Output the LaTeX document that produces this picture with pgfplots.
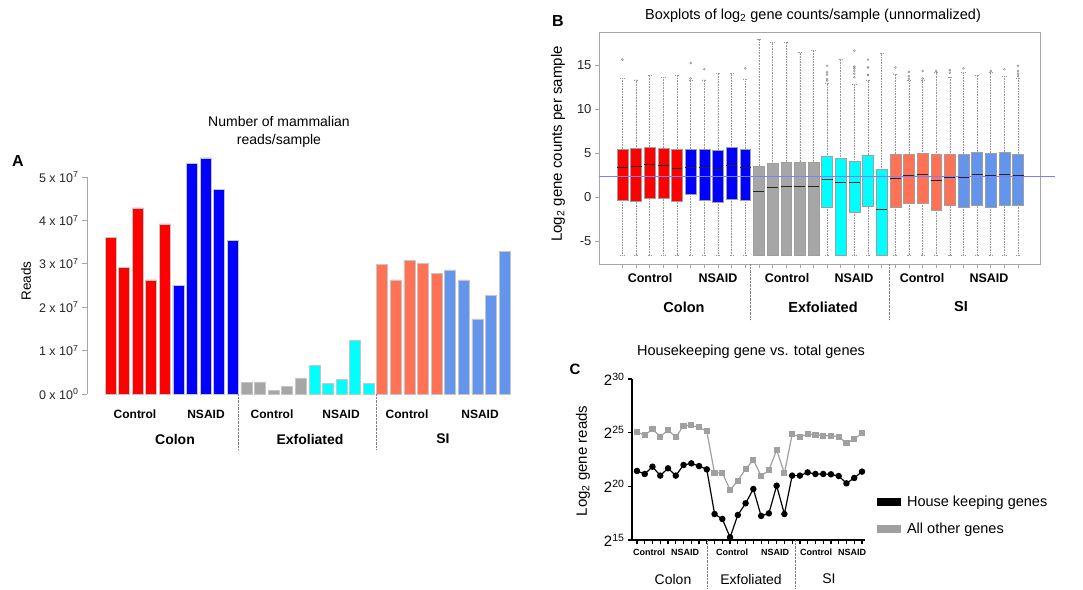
\documentclass[border=0pt]{standalone}
\usepackage{fontspec}
\setmainfont{Liberation Sans}
\usepackage{pgfplots}
\pgfplotsset{compat=1.18}
\usepgfplotslibrary{statistics}

\definecolor{cred}{RGB}{255,0,0}
\definecolor{cblue}{RGB}{0,0,255}
\definecolor{cgray}{RGB}{166,166,166}
\definecolor{ccyan}{RGB}{0,255,255}
\definecolor{ccoral}{RGB}{255,114,86}
\definecolor{ccorn}{RGB}{100,149,237}
\definecolor{refline}{RGB}{125,125,255}
\definecolor{lgray}{RGB}{160,160,160}

\newcommand{\fs}[1]{\fontsize{#1}{#1}\selectfont}

\pgfplotsset{
  bp/.style={draw=gray!75, fill=#1, mark=o, mark size=1pt,
    mark options={draw=gray, fill=none, solid, line width=0.4pt},
    boxplot/every whisker/.style={densely dotted, gray!80, line width=0.6pt},
    boxplot/every median/.style={black!85, line width=1pt}},
  abar/.style={ybar, bar width=11pt, fill=#1, draw=gray!45, line width=0.6pt},
}

\begin{document}
\begin{tikzpicture}[x=1pt,y=1pt]
\useasboundingbox (0,0) rectangle (1083,589);

% ---------------- panel A ----------------
\node[font=\bfseries\fs{16}] at (18,428) {A};
\node[align=center, font=\fontsize{14}{18.5}\selectfont] at (279,457) {Number of mammalian\\reads/sample};
\node[rotate=90, font=\fs{13.5}] at (26,308) {Reads};

\begin{axis}[
    at={(87pt,195pt)}, anchor=south west,
    scale only axis, width=423pt, height=217pt,
    xmin=-0.73, xmax=30.4, ymin=0, ymax=5,
    clip=false,
    axis x line=none, axis y line=left,
    y axis line style={-, gray!70, line width=0.8pt},
    xtick=\empty,
    ytick={0,1,2,3,4,5},
    yticklabels={0 x 10\textsuperscript{0},1 x 10\textsuperscript{7},2 x 10\textsuperscript{7},3 x 10\textsuperscript{7},4 x 10\textsuperscript{7},5 x 10\textsuperscript{7}},
    ytick style={gray!70, line width=0.8pt},
    tick align=outside, major tick length=5pt,
    yticklabel style={font=\fs{12.5}, text=black!85},
]
\addplot[abar=cred] coordinates {(1,3.60) (2,2.91) (3,4.29) (4,2.63) (5,3.92)};
\addplot[abar=cblue] coordinates {(6,2.51) (7,5.31) (8,5.44) (9,4.71) (10,3.54)};
\addplot[abar=cgray] coordinates {(11,0.26) (12,0.28) (13,0.09) (14,0.18) (15,0.37)};
\addplot[abar=ccyan] coordinates {(16,0.65) (17,0.24) (18,0.33) (19,1.23) (20,0.25)};
\addplot[abar=ccoral] coordinates {(21,2.98) (22,2.63) (23,3.08) (24,3.01) (25,2.77)};
\addplot[abar=ccorn] coordinates {(26,2.86) (27,2.63) (28,1.73) (29,2.28) (30,3.28)};
\end{axis}

\draw[densely dotted, gray] (238,195) -- (238,139);
\draw[densely dotted, gray] (376,195) -- (376,139);
\begin{scope}[every node/.style={font=\bfseries\fs{12}}]
\node at (135,175) {Control}; \node at (206,175) {NSAID};
\node at (272,175) {Control}; \node at (341,175) {NSAID};
\node at (407,175) {Control}; \node at (480,175) {NSAID};
\end{scope}
\begin{scope}[every node/.style={font=\bfseries\fs{14}}]
\node at (175,150) {Colon}; \node at (310,150) {Exfoliated}; \node at (443,150) {SI};
\end{scope}

% ---------------- panel B ----------------
\node[font=\bfseries\fs{16}] at (558,568) {B};
\node[font=\fs{14.5}] at (813,573) {Boxplots of log\textsubscript{2} gene counts/sample (unnormalized)};
\node[rotate=90, font=\fs{15}] at (558,445) {Log\textsubscript{2} gene counts per sample};

\begin{axis}[
    at={(599pt,325pt)}, anchor=south west,
    scale only axis, width=441pt, height=232pt,
    xmin=-0.72, xmax=31.61, ymin=-7.55, ymax=18.72,
    clip=false,
    axis line style={gray!70, line width=0.8pt},
    xtick={1,...,30}, xticklabels={},
    ytick={-5,0,5,10,15}, yticklabels={-5,0,5,10,15},
    tick pos=left, tick align=outside, major tick length=4pt,
    tick style={gray!70, line width=0.6pt},
    yticklabel style={font=\fs{13}, text=black!85},
    boxplot/draw direction=y,
    boxplot/box extend=0.8, boxplot/whisker extend=0.3,
]
% Colon control
\addplot[bp=cred, boxplot prepared={draw position=1, lower whisker=-6.6, lower quartile=-0.34, median=3.40, upper quartile=5.47, upper whisker=13.47}] coordinates {(0,15.6)};
\addplot[bp=cred, boxplot prepared={draw position=2, lower whisker=-6.6, lower quartile=-0.49, median=3.50, upper quartile=5.55, upper whisker=13.3}] coordinates {};
\addplot[bp=cred, boxplot prepared={draw position=3, lower whisker=-6.6, lower quartile=-0.05, median=3.74, upper quartile=5.70, upper whisker=13.8}] coordinates {};
\addplot[bp=cred, boxplot prepared={draw position=4, lower whisker=-6.6, lower quartile=-0.15, median=3.55, upper quartile=5.58, upper whisker=13.6}] coordinates {};
\addplot[bp=cred, boxplot prepared={draw position=5, lower whisker=-6.6, lower quartile=-0.49, median=3.28, upper quartile=5.47, upper whisker=13.8}] coordinates {};
% Colon NSAID
\addplot[bp=cblue, boxplot prepared={draw position=6, lower whisker=-6.6, lower quartile=0.34, median=3.43, upper quartile=5.47, upper whisker=13.2}] coordinates {(0,13.45) (0,15.2)};
\addplot[bp=cblue, boxplot prepared={draw position=7, lower whisker=-6.6, lower quartile=-0.34, median=3.32, upper quartile=5.47, upper whisker=13.3}] coordinates {(0,14.5)};
\addplot[bp=cblue, boxplot prepared={draw position=8, lower whisker=-6.6, lower quartile=-0.53, median=3.17, upper quartile=5.36, upper whisker=14.0}] coordinates {};
\addplot[bp=cblue, boxplot prepared={draw position=9, lower whisker=-6.6, lower quartile=-0.19, median=3.55, upper quartile=5.62, upper whisker=14.0}] coordinates {};
\addplot[bp=cblue, boxplot prepared={draw position=10, lower whisker=-6.6, lower quartile=-0.34, median=3.40, upper quartile=5.50, upper whisker=13.4}] coordinates {(0,14.6)};
% Exfoliated control
\addplot[bp=cgray, boxplot prepared={draw position=11, lower whisker=-6.6, lower quartile=-6.6, median=0.64, upper quartile=3.58, upper whisker=17.9}] coordinates {};
\addplot[bp=cgray, boxplot prepared={draw position=12, lower whisker=-6.6, lower quartile=-6.6, median=1.13, upper quartile=3.85, upper whisker=17.5}] coordinates {};
\addplot[bp=cgray, boxplot prepared={draw position=13, lower whisker=-6.6, lower quartile=-6.6, median=1.17, upper quartile=4.00, upper whisker=17.55}] coordinates {};
\addplot[bp=cgray, boxplot prepared={draw position=14, lower whisker=-6.6, lower quartile=-6.6, median=1.25, upper quartile=4.00, upper whisker=16.4}] coordinates {};
\addplot[bp=cgray, boxplot prepared={draw position=15, lower whisker=-6.6, lower quartile=-6.6, median=1.17, upper quartile=4.00, upper whisker=16.6}] coordinates {};
% Exfoliated NSAID
\addplot[bp=ccyan, boxplot prepared={draw position=16, lower whisker=-6.6, lower quartile=-1.13, median=2.04, upper quartile=4.64, upper whisker=12.9}] coordinates {(0,13.2) (0,13.4) (0,13.9) (0,14.15) (0,14.9)};
\addplot[bp=ccyan, boxplot prepared={draw position=17, lower whisker=-6.6, lower quartile=-6.6, median=1.66, upper quartile=4.41, upper whisker=15.66}] coordinates {};
\addplot[bp=ccyan, boxplot prepared={draw position=18, lower whisker=-6.6, lower quartile=-1.66, median=1.66, upper quartile=4.08, upper whisker=12.8}] coordinates {(0,13.6) (0,14.0) (0,14.3) (0,14.6) (0,14.8) (0,16.6)};
\addplot[bp=ccyan, boxplot prepared={draw position=19, lower whisker=-6.6, lower quartile=-1.06, median=2.34, upper quartile=4.79, upper whisker=13.3}] coordinates {(0,13.85) (0,14.7) (0,15.6)};
\addplot[bp=ccyan, boxplot prepared={draw position=20, lower whisker=-6.6, lower quartile=-6.6, median=-1.36, upper quartile=3.13, upper whisker=16.3}] coordinates {};
% SI control
\addplot[bp=ccoral, boxplot prepared={draw position=21, lower whisker=-6.6, lower quartile=-1.13, median=2.10, upper quartile=4.90, upper whisker=13.9}] coordinates {(0,14.7)};
\addplot[bp=ccoral, boxplot prepared={draw position=22, lower whisker=-6.6, lower quartile=-0.64, median=2.42, upper quartile=4.90, upper whisker=13.2}] coordinates {(0,13.4) (0,13.7) (0,14.2)};
\addplot[bp=ccoral, boxplot prepared={draw position=23, lower whisker=-6.6, lower quartile=-0.64, median=2.57, upper quartile=4.98, upper whisker=13.3}] coordinates {(0,13.45) (0,14.3)};
\addplot[bp=ccoral, boxplot prepared={draw position=24, lower whisker=-6.6, lower quartile=-1.43, median=1.96, upper quartile=4.83, upper whisker=14.1}] coordinates {(0,14.3)};
\addplot[bp=ccoral, boxplot prepared={draw position=25, lower whisker=-6.6, lower quartile=-0.94, median=2.30, upper quartile=4.87, upper whisker=13.6}] coordinates {(0,14.1) (0,14.4)};
% SI NSAID
\addplot[bp=ccorn, boxplot prepared={draw position=26, lower whisker=-6.6, lower quartile=-1.13, median=2.26, upper quartile=4.90, upper whisker=14.1}] coordinates {(0,14.6)};
\addplot[bp=ccorn, boxplot prepared={draw position=27, lower whisker=-6.6, lower quartile=-0.94, median=2.64, upper quartile=5.13, upper whisker=13.85}] coordinates {};
\addplot[bp=ccorn, boxplot prepared={draw position=28, lower whisker=-6.6, lower quartile=-1.13, median=2.42, upper quartile=5.02, upper whisker=14.1}] coordinates {(0,14.3)};
\addplot[bp=ccorn, boxplot prepared={draw position=29, lower whisker=-6.6, lower quartile=-0.94, median=2.64, upper quartile=5.13, upper whisker=13.7}] coordinates {(0,14.5)};
\addplot[bp=ccorn, boxplot prepared={draw position=30, lower whisker=-6.6, lower quartile=-0.87, median=2.42, upper quartile=4.90, upper whisker=13.5}] coordinates {(0,13.7) (0,14.0) (0,14.3) (0,14.9)};
% reference line
\addplot[refline, line width=0.7pt] coordinates {(-0.72,2.33) (32.7,2.33)};
\end{axis}

\draw[densely dotted, gray] (750,325) -- (750,269);
\draw[densely dotted, gray] (889,325) -- (889,269);
\begin{scope}[every node/.style={font=\bfseries\fs{12.5}}]
\node at (650,311) {Control}; \node at (718,311) {NSAID};
\node at (787,311) {Control}; \node at (854,311) {NSAID};
\node at (922,311) {Control}; \node at (989,311) {NSAID};
\end{scope}
\begin{scope}[every node/.style={font=\bfseries\fs{14.5}}]
\node at (684,282) {Colon}; \node at (823,282) {Exfoliated}; \node at (961,282) {SI};
\end{scope}

% ---------------- panel C ----------------
\node[font=\bfseries\fs{15}] at (575,220) {C};
\node[font=\fs{14.5}] at (751,237) {Housekeeping gene vs. total genes};
\node[rotate=90, font=\fs{15}] at (583,128) {Log\textsubscript{2} gene reads};

\begin{axis}[
    at={(632pt,49pt)}, anchor=south west,
    scale only axis, width=233pt, height=161pt,
    xmin=0.36, xmax=30.39, ymin=15, ymax=30,
    clip=false,
    axis lines=left,
    axis line style={-, black, line width=1.5pt},
    xtick={1,...,30}, xticklabels={},
    ytick={15,20,25,30},
    yticklabels={2\textsuperscript{15},2\textsuperscript{20},2\textsuperscript{25},2\textsuperscript{30}},
    tick align=outside, major tick length=4pt,
    tick style={black, line width=1.2pt},
    yticklabel style={font=\fs{15}},
    legend style={at={(1.05,0.285)}, anchor=north west, draw=none, fill=none,
      font=\fs{14.5}, row sep=11pt, inner sep=0pt},
    legend cell align=left,
]
\addplot[black, line width=1.2pt, mark=*, mark size=2.6pt,
  legend image code/.code={\fill[black] (0pt,-3.5pt) rectangle (23pt,3.5pt); \path (27pt,0pt);}]
coordinates {
  (1,21.43) (2,21.15) (3,21.83) (4,21.00) (5,21.68) (6,21.00) (7,21.99) (8,22.14) (9,21.89) (10,21.58)
  (11,17.42) (12,16.96) (13,15.25) (14,17.33) (15,18.42) (16,19.75) (17,17.24) (18,17.48) (19,20.06) (20,17.42)
  (21,21.00) (22,21.00) (23,21.30) (24,21.15) (25,21.15) (26,21.12) (27,20.96) (28,20.28) (29,20.78) (30,21.37)
};
\addlegendentry{House keeping genes}
\addplot[lgray, line width=1.2pt, mark=square*, mark size=2.5pt, mark options={fill=lgray},
  legend image code/.code={\fill[lgray] (0pt,-3.5pt) rectangle (23pt,3.5pt); \path (27pt,0pt);}]
coordinates {
  (1,25.09) (2,24.75) (3,25.34) (4,24.63) (5,25.25) (6,24.57) (7,25.65) (8,25.68) (9,25.50) (10,25.12)
  (11,21.21) (12,21.27) (13,19.66) (14,20.53) (15,21.61) (16,22.45) (17,20.96) (18,21.49) (19,23.39) (20,21.21)
  (21,24.84) (22,24.63) (23,24.84) (24,24.81) (25,24.72) (26,24.72) (27,24.63) (28,24.01) (29,24.41) (30,24.94)
};
\addlegendentry{All other genes}
\end{axis}

\draw[densely dotted, gray] (707,49) -- (707,0);
\draw[densely dotted, gray] (795,49) -- (795,0);
\begin{scope}[every node/.style={font=\bfseries\fs{9}}]
\node at (649,37) {Control}; \node at (685,37) {NSAID};
\node at (732,37) {Control}; \node at (775,37) {NSAID};
\node at (816,37) {Control}; \node at (852,37) {NSAID};
\end{scope}
\begin{scope}[every node/.style={font=\fs{14}}]
\node at (673,10) {Colon}; \node at (751,10) {Exfoliated}; \node at (829,10) {SI};
\end{scope}
\end{tikzpicture}
\end{document}
